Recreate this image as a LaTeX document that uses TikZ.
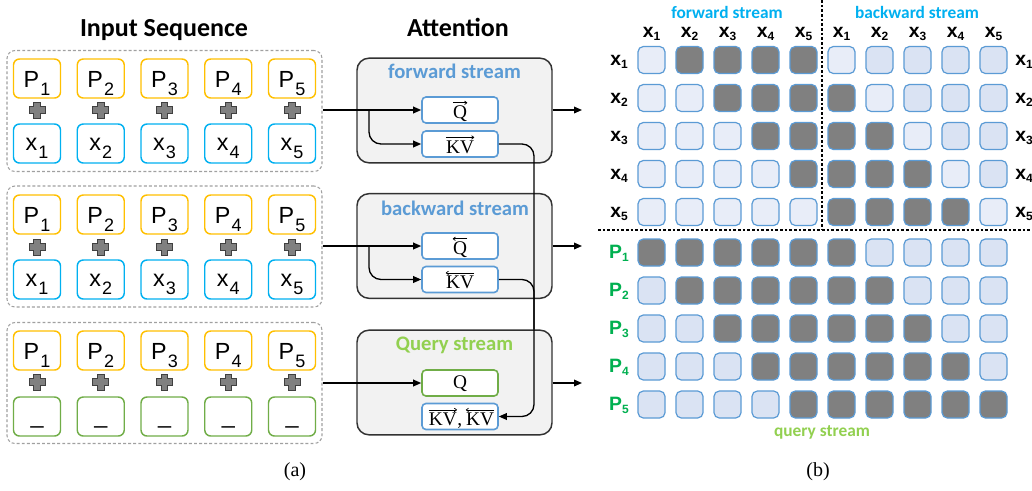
\documentclass[tikz,border=0pt]{standalone}
\usepackage{fix-cm}
\usepackage{fontspec}
\usetikzlibrary{arrows.meta,calc}
\newfontfamily\calib{Carlito}
\newfontfamily\arialf{Liberation Sans}
\newfontfamily\timesf{Liberation Serif}
\definecolor{cY}{RGB}{255,192,0}
\definecolor{cC}{RGB}{0,176,240}
\definecolor{cG}{RGB}{112,173,71}
\definecolor{cB}{RGB}{91,155,213}
\definecolor{cGr}{RGB}{160,160,160}
\definecolor{cBox}{RGB}{242,242,242}
\definecolor{cBd}{RGB}{50,50,50}
\definecolor{cLG}{RGB}{146,208,80}
\definecolor{cDG}{RGB}{0,176,80}
\definecolor{cL1}{RGB}{232,237,248}
\definecolor{cL2}{RGB}{218,227,243}
\definecolor{cD}{RGB}{128,128,128}
\newcommand\tsub[1]{\kern0.8pt\raisebox{-6pt}{\fontsize{13.5}{14}\selectfont #1}}
\newcommand\msub[1]{\raisebox{-2.5pt}{\fontsize{9}{10}\selectfont #1}}
\tikzset{
  tok/.style={draw, line width=1.1pt, rounded corners=4.5pt, minimum width=35.25pt,
    minimum height=29.25pt, fill=white, inner sep=0pt,
    font=\arialf\fontsize{17.5}{20}\selectfont},
  ptok/.style={tok, draw=cY, text height=12.8pt, text depth=0pt},
  xtok/.style={tok, draw=cC, text height=9.8pt, text depth=0pt},
  gtok/.style={tok, draw=cG, text height=10.5pt, text depth=0pt},
  grp/.style={draw=cGr, dash pattern=on 2.2pt off 1.6pt, line width=0.8pt, rounded corners=6pt,
    minimum width=236.25pt, minimum height=90.75pt, inner sep=0pt},
  attbox/.style={draw=cBd, fill=cBox, line width=1.1pt, rounded corners=9pt,
    minimum width=146.25pt, minimum height=78.5pt, inner sep=0pt},
  sub/.style={draw=cB, fill=white, line width=1.2pt, rounded corners=3pt,
    minimum width=57pt, minimum height=19.5pt, inner sep=0pt},
  stxt/.style={inner sep=0pt, anchor=base, font=\timesf\fontsize{14.5}{16}\selectfont},
  ovarr/.style={-{To[length=2.2pt,width=3pt]}, line width=0.55pt},
  atitle/.style={font=\calib\bfseries\fontsize{15.5}{17}\selectfont},
  title/.style={font=\calib\bfseries\fontsize{19.5}{21}\selectfont},
  arr/.style={-{Triangle[length=6pt,width=5pt]}, line width=1pt},
  ln/.style={line width=1pt},
  cell/.style={draw=cB, line width=0.9pt, rounded corners=4pt, minimum size=20.25pt, inner sep=0pt},
  mlab/.style={font=\arialf\bfseries\fontsize{14.5}{16}\selectfont, anchor=base, inner sep=0pt},
  mhead/.style={font=\calib\bfseries\fontsize{13}{14}\selectfont, text=cC},
  capt/.style={font=\timesf\fontsize{15}{16}\selectfont},
  crosspic/.pic={\filldraw[fill=cD, draw=black!75, line width=0.6pt]
    (-3.2,-8) -- (3.2,-8) -- (3.2,-3.2) -- (8,-3.2) -- (8,3.2) -- (3.2,3.2) -- (3.2,8)
    -- (-3.2,8) -- (-3.2,3.2) -- (-8,3.2) -- (-8,-3.2) -- (-3.2,-3.2) -- cycle;}
}
\begin{document}
\begin{tikzpicture}[x=0.75pt,y=-0.75pt]
\useasboundingbox (0,0) rectangle (1032,490);
\fill[white] (0,0) rectangle (1032,490);
\clip (0,0) rectangle (1032,490);

% ---------------- (a) left ----------------
\node[title] (tin) at (164,30) {Input Sequence};
\node[title] (tatt) at (458,27) {Attention};

\node[grp] (g1) at (164.5,111) {};
\node[grp] (g2) at (164.5,246.5) {};
\node[grp] (g3) at (164.5,383) {};

\foreach \i in {1,...,5}{
  \pgfmathsetmacro\cx{37+63.75*(\i-1)}
  \node[ptok] (pa\i) at (\cx,78.5) {P\tsub{\i}};
  \pic at (\cx,110) {crosspic};
  \node[xtok] (xa\i) at (\cx,143.5) {x\tsub{\i}};
  \node[ptok] (pb\i) at (\cx,214.5) {P\tsub{\i}};
  \pic at (\cx,247) {crosspic};
  \node[xtok] (xb\i) at (\cx,279.5) {x\tsub{\i}};
  \node[ptok] (pc\i) at (\cx,350.5) {P\tsub{\i}};
  \pic at (\cx,382) {crosspic};
  \node[gtok] (gc\i) at (\cx,416.5) {\_};
}

% attention boxes
\node[attbox] (fbox) at (454.5,110.5) {};
\node[attbox] (bbox) at (454.5,246) {};
\node[attbox] (qbox) at (454.5,382.5) {};
\node[atitle, text=cB] (ft) at (454.5,71) {forward stream};
\node[atitle, text=cB] (bt) at (455,208) {backward stream};
\node[atitle, text=cLG] (qt) at (454.5,345) {Query stream};

\node[sub] (fq) at (460,110) {};
\node[sub] (fkv) at (460,144) {};
\node[sub] (bq) at (460,246) {};
\node[sub] (bkv) at (460,279.5) {};
\node[sub, draw=cG] (qq) at (460,383) {};
\node[sub] (qkv) at (460,416.5) {};

\node[stxt] (fqt) at ($(fq.center)+(0,8.5)$) {Q};
\node[stxt] (fkvt) at ($(fkv.center)+(0,9)$) {KV};
\node[stxt] (bqt) at ($(bq.center)+(0,8.5)$) {Q};
\node[stxt] (bkvt) at ($(bkv.center)+(0,9)$) {KV};
\node[stxt] (qqt) at ($(qq.center)+(0,5.5)$) {Q};
\node[stxt, anchor=base east] (qk1) at ($(qkv.center)+(-3,9)$) {KV};
\node[stxt, anchor=base west] (qkc) at (qk1.base east) {,};
\node[stxt, anchor=base west] (qk2) at ($(qkc.base east)+(3.5,0)$) {KV};

\draw[ovarr] ([yshift=2pt]fqt.north west) -- ([yshift=2pt]fqt.north east);
\draw[ovarr] ([yshift=2pt]fkvt.north west) -- ([yshift=2pt]fkvt.north east);
\draw[ovarr] ([yshift=2pt]bqt.north east) -- ([yshift=2pt]bqt.north west);
\draw[ovarr] ([yshift=2pt]bkvt.north east) -- ([yshift=2pt]bkvt.north west);
\draw[ovarr] ([yshift=2pt]qk1.north west) -- ([yshift=2pt]qk1.north east);
\draw[ovarr] ([yshift=2pt]qk2.north east) -- ([yshift=2pt]qk2.north west);

\coordinate (b1) at (369,110);
\coordinate (b2) at (369,246);
\coordinate (vx) at (534,0);
\coordinate (o1) at (582,110);
\coordinate (o2) at (582,246);
\coordinate (o3) at (582,383);

\draw[arr] (g1.east |- fq.west) -- (fq.west);
\draw[arr, rounded corners=9pt] (b1) |- (fkv.west);
\draw[arr] (g2.east |- bq.west) -- (bq.west);
\draw[arr, rounded corners=9pt] (b2) |- (bkv.west);
\draw[arr] (g3.east |- qq.west) -- (qq.west);

\draw[arr] (fbox.east |- o1) -- (o1);
\draw[arr] (bbox.east |- o2) -- (o2);
\draw[arr] (qbox.east |- o3) -- (o3);

\draw[arr, rounded corners=9pt] (fkv.east) -| (vx |- qkv.east) -- (qkv.east);
\draw[ln, rounded corners=9pt] (bkv.east) -| (vx |- qbox.north);

\node[capt] (capa) at (295,472) {(a)};

% ---------------- (b) right ----------------
\node[mhead] (hf) at (727,12) {forward stream};
\node[mhead] (hb) at (917,12) {backward stream};
\node[mhead, text=cLG] (hq) at (822,432) {query stream};

\coordinate (dv1) at (822,0);
\coordinate (dv2) at (822,230);
\coordinate (dh1) at (598,230);
\coordinate (dh2) at (1032,230);
\draw[dash pattern=on 2pt off 1.5pt, line width=0.8pt] (dv1) -- (dv2);
\draw[dash pattern=on 2pt off 1.5pt, line width=0.8pt] (dh1) -- (dh2);

\foreach \j in {1,...,5}{
  \node[mlab] (cf\j) at ({651.5+38*(\j-1)},37) {x\msub{\j}};
  \node[mlab] (cb\j) at ({841.5+38*(\j-1)},37) {x\msub{\j}};
}
\foreach \i in {1,...,5}{
  \node[mlab] (rl\i) at (619,{65+38*(\i-1)}) {x\msub{\i}};
  \node[mlab] (rr\i) at (1024,{65+38*(\i-1)}) {x\msub{\i}};
  \node[mlab, text=cDG] (pl\i) at (619,{258+38*(\i-1)}) {P\msub{\i}};
}

\foreach \i in {1,...,5}{
  \foreach \j in {1,...,10}{
    \pgfmathtruncatemacro\k{\j<=5 ? (\j>\i ? 2 : 0) : ((\j-5)<\i ? 2 : ((\j-5)==\i ? 0 : 1))}
    \ifcase\k \def\fc{cL1}\or \def\fc{cL2}\else \def\fc{cD}\fi
    \node[cell, fill=\fc] (mx\i-\j) at ({651.5+38*(\j-1)},{60+38*(\i-1)}) {};
    \pgfmathtruncatemacro\m{\j<=5 ? (\j>=\i ? 2 : 1) : ((\j-5)<=\i ? 2 : 1)}
    \ifcase\m \def\fd{cL1}\or \def\fd{cL2}\else \def\fd{cD}\fi
    \node[cell, fill=\fd] (mp\i-\j) at ({651.5+38*(\j-1)},{252.5+38*(\i-1)}) {};
  }
}

\node[capt] (capb) at (818,472) {(b)};
\end{tikzpicture}
\end{document}
